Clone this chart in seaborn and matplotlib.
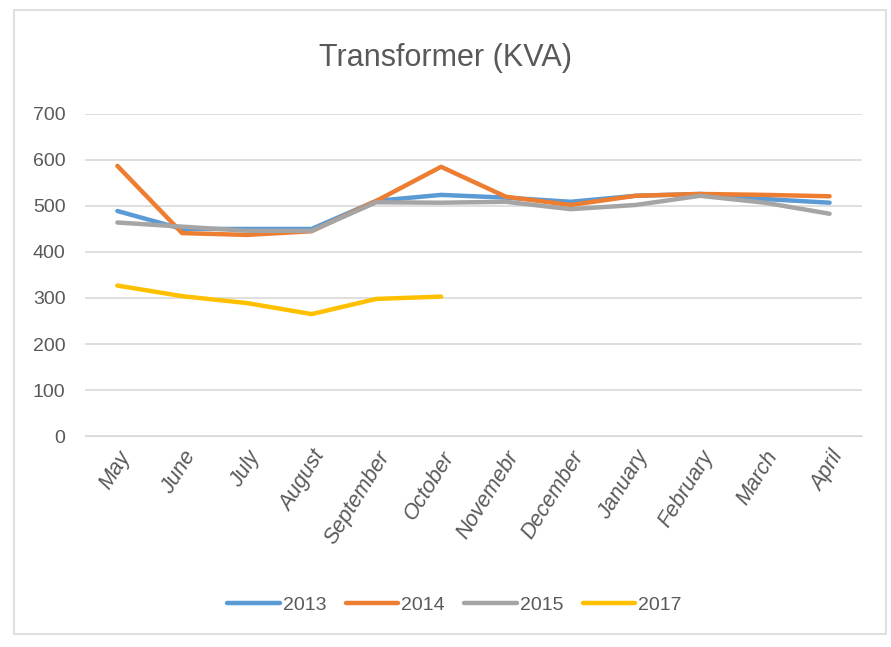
import pandas as pd
import numpy as np
import matplotlib.pyplot as plt
import seaborn as sns
from matplotlib.patches import Rectangle

months = ["May", "June", "July", "August", "September", "October",
          "Novemebr", "December", "January", "February", "March", "April"]
kva_2013 = [489, 450, 450, 450, 511, 524, 518, 509, 522, 526, 515, 507]
kva_2014 = [587, 441, 437, 445, 511, 585, 520, 502, 522, 526, 524, 521]
kva_2015 = [464, 455, 446, 446, 508, 507, 509, 493, 502, 522, 507, 483]
kva_2017 = [327, 304, 289, 265, 298, 303, None, None, None, None, None, None]
years = ["2013", "2014", "2015", "2017"]
colors = ["#5B9BD5", "#ED7D31", "#A5A5A5", "#FFC000"]

# long form table for seaborn
rows = []
for yr, vals in zip(years, [kva_2013, kva_2014, kva_2015, kva_2017]):
    for m, v in zip(months, vals):
        rows.append({"Month": m, "Year": yr, "KVA": np.nan if v is None else v})
df = pd.DataFrame(rows).dropna()

sns.set_style("white")
plt.rcParams["font.family"] = ["Liberation Sans Narrow", "Liberation Sans", "DejaVu Sans"]

fig = plt.figure(figsize=(8.91, 6.47), dpi=100)
ax = fig.add_axes([0.0954, 0.326, 0.872, 0.498])

sns.lineplot(data=df, x="Month", y="KVA", hue="Year", hue_order=years,
             palette=colors, linewidth=3.2, sort=False, ax=ax)

ax.set_xlim(-0.5, 11.5)
ax.set_ylim(0, 700)
ax.set_yticks(range(0, 701, 100))
ax.grid(axis="y", color="#D9D9D9", linewidth=1.2)
ax.set_axisbelow(True)
for s in ["top", "right", "left"]:
    ax.spines[s].set_visible(False)
ax.spines["bottom"].set_color("#D9D9D9")
ax.set_xlabel("")
ax.set_ylabel("")
ax.tick_params(axis="both", length=0, colors="#595959", labelsize=14)
ax.tick_params(axis="y", pad=14)
ax.tick_params(axis="x", pad=8, labelsize=15.5)
plt.setp(ax.get_xticklabels(), rotation=58, ha="right", rotation_mode="anchor",
         style="italic")

fig.text(0.5, 0.91, "Transformer (KVA)", ha="center", va="center",
         fontsize=22, color="#595959")

handles, labels = ax.get_legend_handles_labels()
ax.legend(handles, labels, ncol=4, frameon=False, loc="center",
          bbox_to_anchor=(0.51, 0.065), bbox_transform=fig.transFigure,
          fontsize=14, handlelength=2.7, handletextpad=0.15, columnspacing=1.0,
          labelcolor="#595959")

# chart frame like the spreadsheet view
fig.patches.append(Rectangle((14 / 891, 0.02), 872 / 891, 0.965,
                             transform=fig.transFigure, fill=False,
                             edgecolor="#D9D9D9", linewidth=1.2))

fig.savefig("out.png", dpi=100)
